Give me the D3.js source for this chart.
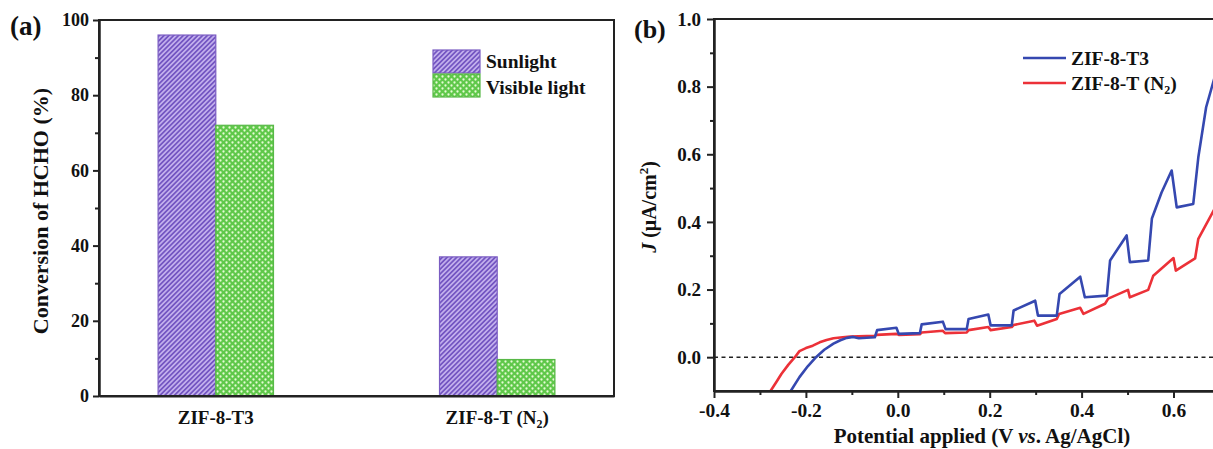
<!DOCTYPE html>
<html><head><meta charset="utf-8">
<script src="https://cdn.jsdelivr.net/npm/d3@7"></script>
<style>
body{margin:0;background:#fff;}
svg{display:block;font-family:"Liberation Serif","Times New Roman",serif;font-weight:bold;}
</style></head><body>
<svg id="c" width="1213" height="449"></svg>
<script>
// ---------- data: panel (a) ----------
const categories = ["ZIF-8-T3", "ZIF-8-T (N2)"];
const seriesNames = ["Sunlight", "Visible light"];
const sunlightValues = [96, 37];
const visibleValues = [72, 9.7];
const leftYTicks = [0, 20, 40, 60, 80, 100];
const leftYMinorTicks = [10, 30, 50, 70, 90];

// ---------- data: panel (b) ----------
const seriesB = ["ZIF-8-T3", "ZIF-8-T (N2)"];
const curveT3 = [
  [-0.233,-0.100],[-0.214,-0.059],[-0.196,-0.027],[-0.178,0.000],[-0.160,0.022],
  [-0.140,0.040],[-0.125,0.050],[-0.111,0.057],[-0.097,0.060],[-0.085,0.056],
  [-0.050,0.059],[-0.045,0.080],[-0.003,0.087],[0.002,0.069],[0.048,0.071],
  [0.052,0.097],[0.098,0.105],[0.104,0.083],[0.150,0.083],[0.154,0.113],
  [0.197,0.126],[0.202,0.094],[0.248,0.094],[0.252,0.138],[0.299,0.167],
  [0.305,0.123],[0.346,0.123],[0.352,0.187],[0.397,0.238],[0.407,0.177],
  [0.455,0.182],[0.462,0.286],[0.498,0.360],[0.505,0.281],[0.545,0.286],
  [0.553,0.410],[0.574,0.487],[0.596,0.552],[0.607,0.443],[0.643,0.453],
  [0.654,0.591],[0.671,0.739],[0.690,0.830],[0.710,0.900]
];
const curveN2 = [
  [-0.277,-0.100],[-0.265,-0.075],[-0.253,-0.049],[-0.238,-0.022],[-0.224,0.000],
  [-0.214,0.018],[-0.200,0.027],[-0.185,0.034],[-0.170,0.044],[-0.155,0.051],
  [-0.140,0.056],[-0.120,0.059],[-0.103,0.061],[-0.050,0.063],[-0.046,0.066],
  [-0.003,0.069],[0.002,0.066],[0.048,0.068],[0.052,0.073],[0.098,0.078],
  [0.103,0.071],[0.150,0.073],[0.154,0.080],[0.197,0.089],[0.202,0.080],
  [0.248,0.089],[0.252,0.095],[0.297,0.108],[0.303,0.093],[0.346,0.113],
  [0.351,0.128],[0.397,0.146],[0.404,0.128],[0.451,0.158],[0.458,0.173],
  [0.501,0.199],[0.505,0.177],[0.545,0.199],[0.556,0.241],[0.600,0.293],
  [0.605,0.256],[0.647,0.292],[0.654,0.350],[0.690,0.440],[0.710,0.480]
];
const rightXTicks = [-0.4, -0.2, 0.0, 0.2, 0.4, 0.6];
const rightXMinorTicks = [-0.3, -0.1, 0.1, 0.3, 0.5];
const rightYTicks = [0.0, 0.2, 0.4, 0.6, 0.8, 1.0];
const rightYMinorTicks = [0.1, 0.3, 0.5, 0.7, 0.9];

const svg = d3.select("#c");
const AX = "#222";
const defs = svg.append("defs");

// hatch pattern (purple)
const ph = defs.append("pattern").attr("id","hatch").attr("patternUnits","userSpaceOnUse")
  .attr("width",3.4).attr("height",3.4).attr("patternTransform","rotate(45)");
ph.append("rect").attr("width",3.4).attr("height",3.4).attr("fill","#cbbaf2");
ph.append("line").attr("x1",1.7).attr("x2",1.7).attr("y1",0).attr("y2",3.4)
  .attr("stroke","#7456c2").attr("stroke-width",1.9);
// dots pattern (green)
const pd = defs.append("pattern").attr("id","dots").attr("patternUnits","userSpaceOnUse")
  .attr("width",6).attr("height",6);
pd.append("rect").attr("width",6).attr("height",6).attr("fill","#5fc84a");
pd.append("circle").attr("cx",1.5).attr("cy",1.5).attr("r",1.15).attr("fill","#e6fbd4");
pd.append("circle").attr("cx",4.5).attr("cy",4.5).attr("r",1.15).attr("fill","#e6fbd4");

const fills = ["url(#hatch)", "url(#dots)"];
const strokes = ["#7a5cc2", "#58b847"];

function styleAxis(g, fs){
  g.select(".domain").attr("stroke",AX).attr("stroke-width",2);
  g.selectAll(".tick line").attr("stroke",AX).attr("stroke-width",2);
  g.selectAll(".tick text").attr("fill","#111").attr("font-size",fs)
    .attr("font-family","Liberation Serif").attr("font-weight","bold");
}

// ================= panel (a) =================
const La = {x0: 99, x1: 614, y0: 20, y1: 396};
const yL = d3.scaleLinear().domain([0,100]).range([La.y1, La.y0]);
const xL = d3.scaleBand().domain(categories).range([La.x0, La.x1])
  .paddingInner(0.59).paddingOuter(0.21);
const xInner = d3.scaleBand().domain(seriesNames).range([0, xL.bandwidth()]);

const barData = [];
categories.forEach((c,i)=>{
  barData.push({c, s: seriesNames[0], v: sunlightValues[i], k:0});
  barData.push({c, s: seriesNames[1], v: visibleValues[i], k:1});
});
svg.append("g").selectAll("rect").data(barData).join("rect")
  .attr("x", d => xL(d.c) + xInner(d.s))
  .attr("y", d => yL(d.v))
  .attr("width", xInner.bandwidth())
  .attr("height", d => yL(0) - yL(d.v))
  .attr("fill", d => fills[d.k])
  .attr("stroke", d => strokes[d.k]).attr("stroke-width",1.2);

// frame
svg.append("rect").attr("x",La.x0).attr("y",La.y0).attr("width",La.x1-La.x0).attr("height",La.y1-La.y0)
  .attr("fill","none").attr("stroke",AX).attr("stroke-width",2);

const gyL = svg.append("g").attr("transform",`translate(${La.x0},0)`)
  .call(d3.axisLeft(yL).tickValues(leftYTicks).tickSize(6).tickPadding(4).tickSizeOuter(0));
styleAxis(gyL, 18);
const gyLm = svg.append("g").attr("transform",`translate(${La.x0},0)`)
  .call(d3.axisLeft(yL).tickValues(leftYMinorTicks).tickSize(4).tickFormat("").tickSizeOuter(0));
styleAxis(gyLm, 18);

const gxL = svg.append("g").attr("transform",`translate(0,${La.y1})`)
  .call(d3.axisBottom(xL).tickSize(0).tickPadding(15).tickSizeOuter(0));
styleAxis(gxL, 19);
gxL.selectAll(".tick text").each(function(d){
  const t = d3.select(this);
  const m = d.match(/^(.*)\((N)(\d)\)$/);
  if (m){
    t.text(null);
    t.append("tspan").text(m[1] + "(" + m[2]);
    t.append("tspan").attr("font-size",12).attr("dy",4).text(m[3]);
    t.append("tspan").attr("dy",-4).text(")");
  }
});

svg.append("text").attr("transform",`translate(48,${(La.y0+La.y1)/2 + 3}) rotate(-90)`)
  .attr("text-anchor","middle").attr("font-size",22).attr("fill","#111")
  .text("Conversion of HCHO (%)");
svg.append("text").attr("x",10).attr("y",35).attr("font-size",27).attr("fill","#111").text("(a)");

// legend (a)
const legA = svg.append("g");
seriesNames.forEach((s,i)=>{
  legA.append("rect").attr("x",433).attr("y",50 + i*24).attr("width",47).attr("height",23)
    .attr("fill",fills[i]).attr("stroke",strokes[i]).attr("stroke-width",1.2);
  legA.append("text").attr("x",486).attr("y",68 + i*26).attr("font-size",19.5).attr("fill","#111").text(s);
});

// ================= panel (b) =================
const Rb = {x0: 714, y0: 19, y1: 391};
const xR = d3.scaleLinear().domain([-0.4,0.8]).range([714, 714 + 459.5*1.2]);
const yR = d3.scaleLinear().domain([-0.1,1.0]).range([Rb.y1, Rb.y0]);

defs.append("clipPath").attr("id","clipB").append("rect")
  .attr("x",xR(-0.4)).attr("y",Rb.y0).attr("width",xR(0.8)-xR(-0.4)).attr("height",Rb.y1-Rb.y0);

// dashed zero line
svg.append("line").attr("x1",xR(-0.4)).attr("x2",xR(0.8)).attr("y1",yR(0)).attr("y2",yR(0))
  .attr("stroke",AX).attr("stroke-width",1.6).attr("stroke-dasharray","4,3.5");

const line = d3.line().x(d=>xR(d[0])).y(d=>yR(d[1]));
const colorsB = ["#3548b0", "#ec3138"];
const gC = svg.append("g").attr("clip-path","url(#clipB)");
gC.append("path").datum(curveN2).attr("d",line).attr("fill","none")
  .attr("stroke",colorsB[1]).attr("stroke-width",2.6).attr("stroke-linejoin","round");
gC.append("path").datum(curveT3).attr("d",line).attr("fill","none")
  .attr("stroke",colorsB[0]).attr("stroke-width",2.6).attr("stroke-linejoin","round");

svg.append("rect").attr("x",xR(-0.4)).attr("y",Rb.y0).attr("width",xR(0.8)-xR(-0.4)).attr("height",Rb.y1-Rb.y0)
  .attr("fill","none").attr("stroke",AX).attr("stroke-width",2);

const fmt = d => d.toFixed(1);
const gxR = svg.append("g").attr("transform",`translate(0,${Rb.y1})`)
  .call(d3.axisBottom(xR).tickValues(rightXTicks).tickFormat(fmt).tickSize(7).tickPadding(5).tickSizeOuter(0));
styleAxis(gxR, 19.5);
const gxRm = svg.append("g").attr("transform",`translate(0,${Rb.y1})`)
  .call(d3.axisBottom(xR).tickValues(rightXMinorTicks).tickFormat("").tickSize(4).tickSizeOuter(0));
styleAxis(gxRm, 19.5);
const gyR = svg.append("g").attr("transform",`translate(${Rb.x0},0)`)
  .call(d3.axisLeft(yR).tickValues(rightYTicks).tickFormat(fmt).tickSize(7).tickPadding(6).tickSizeOuter(0));
styleAxis(gyR, 19);
const gyRm = svg.append("g").attr("transform",`translate(${Rb.x0},0)`)
  .call(d3.axisLeft(yR).tickValues(rightYMinorTicks).tickFormat("").tickSize(4).tickSizeOuter(0));
styleAxis(gyRm, 19);

// axis titles (b)
const xt = svg.append("text").attr("x",982).attr("y",443).attr("text-anchor","middle")
  .attr("font-size",21).attr("fill","#111");
xt.append("tspan").text("Potential applied (V ");
xt.append("tspan").attr("font-style","italic").text("vs");
xt.append("tspan").text(". Ag/AgCl)");

const yt = svg.append("text").attr("transform",`translate(656,${(Rb.y0+Rb.y1)/2 + 2}) rotate(-90)`)
  .attr("text-anchor","middle").attr("font-size",20).attr("fill","#111");
yt.append("tspan").attr("font-style","italic").text("J");
yt.append("tspan").text(" (μA/cm");
yt.append("tspan").attr("font-size",13).attr("dy",-8).text("2");
yt.append("tspan").attr("dy",8).text(")");

svg.append("text").attr("x",634).attr("y",38).attr("font-size",26).attr("fill","#111").text("(b)");

// legend (b)
seriesB.forEach((s,i)=>{
  const y = 58 + i*25;
  svg.append("line").attr("x1",1023).attr("x2",1066).attr("y1",y).attr("y2",y)
    .attr("stroke",colorsB[i]).attr("stroke-width",2.6);
  const t = svg.append("text").attr("x",1071).attr("y",y+7).attr("font-size",19.5).attr("fill","#111");
  const m = s.match(/^(.*)\((N)(\d)\)$/);
  if (m){
    t.append("tspan").text(m[1] + "(" + m[2]);
    t.append("tspan").attr("font-size",12).attr("dy",4).text(m[3]);
    t.append("tspan").attr("dy",-4).text(")");
  } else t.text(s);
});
</script>
</body></html>
